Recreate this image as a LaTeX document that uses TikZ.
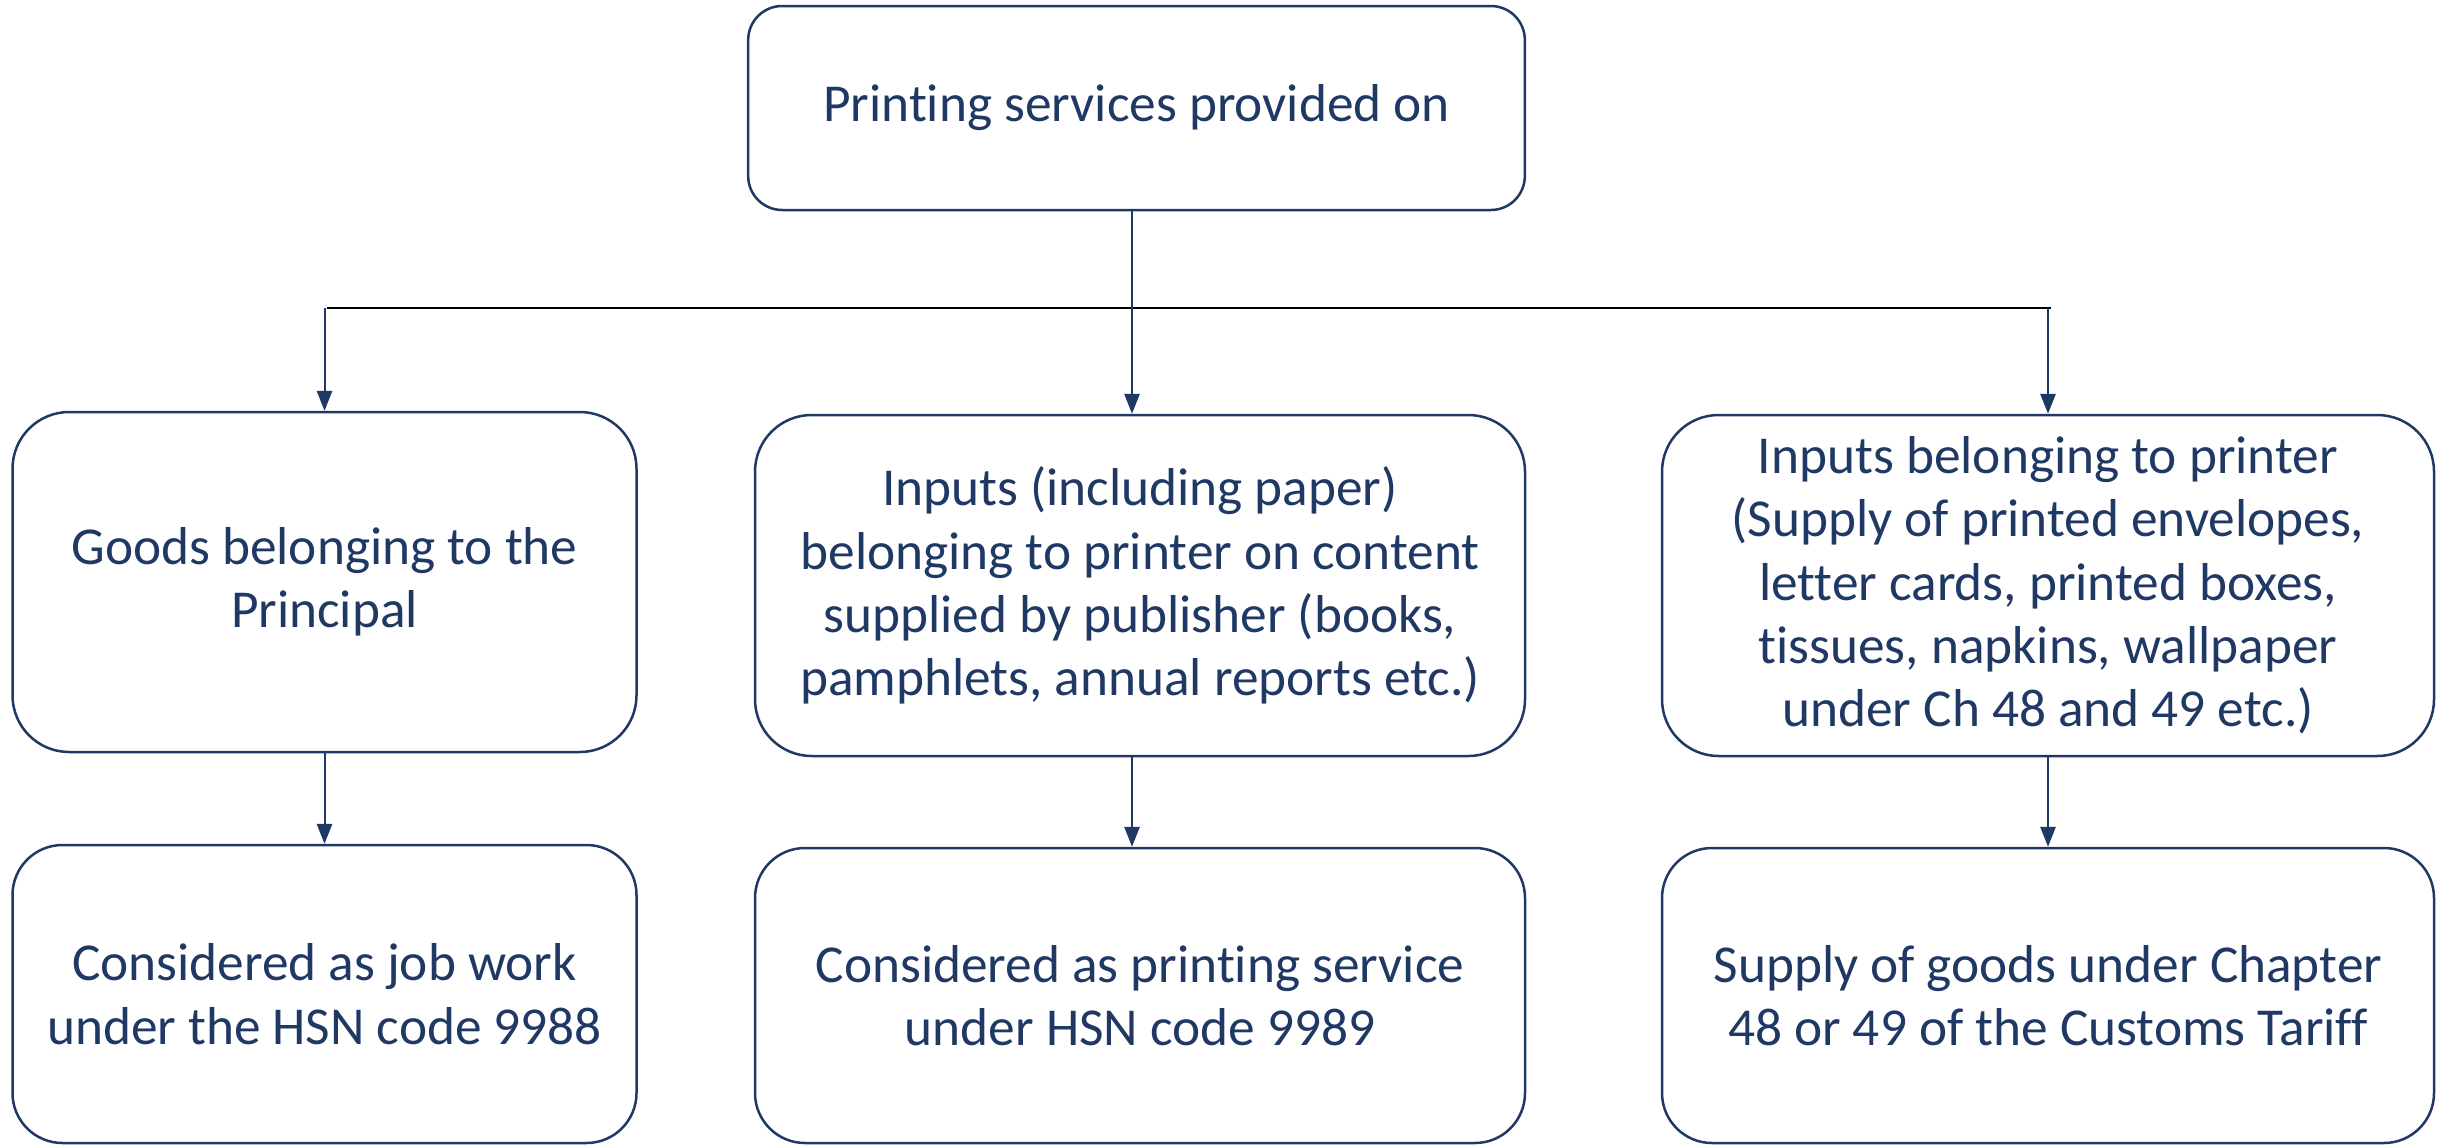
\documentclass[tikz,border=0pt]{standalone}
\usepackage{fontspec}
\setmainfont{Carlito}[Ligatures=NoCommon]
\usetikzlibrary{arrows.meta,calc}
\definecolor{navy}{RGB}{31,56,100}
\tikzset{
  box/.style={draw=navy, line width=0.75pt, text=navy, align=center,
    font=\fontsize{16}{19}\selectfont, inner sep=0pt},
  arr/.style={draw=navy, line width=0.6pt, -{Triangle[length=6pt,width=4.6pt]}},
  busline/.style={draw=black, line width=0.5pt}
}
\begin{document}
\begin{tikzpicture}[x=0.3pt,y=-0.3pt]
\useasboundingbox (0,0) rectangle (2440,1145);
% top box
\node[box, minimum width=233pt, minimum height=61.2pt, rounded corners=10.2pt] (top) at (1136.5,108) {Printing services provided on};
% middle row
\node[box, minimum width=187.2pt, minimum height=102pt, rounded corners=17pt] (goods) at (324.5,582) {Goods belonging to the\\Principal};
\node[box, minimum width=231pt, minimum height=102.3pt, rounded corners=17pt] (inputs) at (1140,585.5) {Inputs (including paper)\\belonging to printer on content\\supplied by publisher (books,\\pamphlets, annual reports etc.)};
\node[box, minimum width=231.6pt, minimum height=102.3pt, rounded corners=17pt] (printer) at (2048,585.5) {Inputs belonging to printer\\(Supply of printed envelopes,\\letter cards, printed boxes,\\tissues, napkins, wallpaper\\under Ch 48 and 49 etc.)};
% bottom row
\node[box, minimum width=187.2pt, minimum height=89.4pt, rounded corners=15pt] (job) at (324.5,994) {Considered as job work\\under the HSN code 9988};
\node[box, minimum width=231pt, minimum height=88.5pt, rounded corners=15pt] (service) at (1140,995.5) {Considered as printing service\\under HSN code 9989};
\node[box, minimum width=231.6pt, minimum height=88.5pt, rounded corners=15pt] (supply) at (2048,995.5) {Supply of goods under Chapter\\48 or 49 of the Customs Tariff};
% branching bus
\coordinate (busL) at (327,308);
\coordinate (busR) at (2051,308);
\coordinate (midx) at (1132,0);
\draw[busline] (busL) -- (busR);
\draw[arr] (midx |- top.south) -- (midx |- inputs.north);
\draw[arr] (goods.north |- busL) -- (goods.north);
\draw[arr] (printer.north |- busR) -- (printer.north);
% lower arrows
\draw[arr] (goods.south) -- (job.north);
\draw[arr] (midx |- inputs.south) -- (midx |- service.north);
\draw[arr] (printer.south) -- (supply.north);
\end{tikzpicture}
\end{document}
